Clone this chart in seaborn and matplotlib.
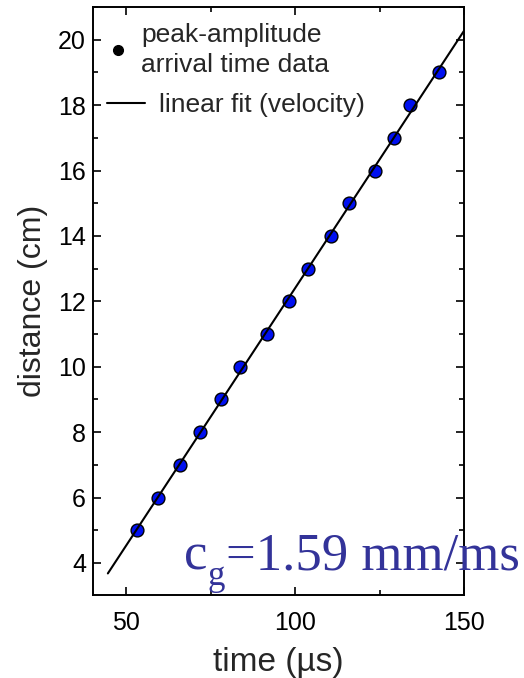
import numpy as np
import pandas as pd
import matplotlib
matplotlib.use("Agg")
import matplotlib.pyplot as plt
from matplotlib.lines import Line2D
from matplotlib.ticker import MultipleLocator
import seaborn as sns

# ---- data ----
time_us = [53.0, 59.3, 65.8, 71.8, 78.1, 83.7, 91.5, 98.1, 103.7, 110.6, 116.0, 123.7, 129.4, 133.9, 142.5]
distance_cm = [5, 6, 7, 8, 9, 10, 11, 12, 13, 14, 15, 16, 17, 18, 19]
fit_range_us = [44.5, 152.0]
x_ticks = [50, 100, 150]
y_ticks = [4, 6, 8, 10, 12, 14, 16, 18, 20]
vel_main, vel_sub, vel_rest = "c", "g", "=1.59 mm/ms"

df = pd.DataFrame({"time": time_us, "distance": distance_cm})
slope, intercept = np.polyfit(time_us, distance_cm, 1)
fit_df = pd.DataFrame({"time": fit_range_us})
fit_df["distance"] = slope * fit_df["time"] + intercept

sns.set_theme(style="ticks")
plt.rcParams["font.family"] = ["Liberation Sans", "DejaVu Sans"]

W, H = 524, 678
fig = plt.figure(figsize=(W / 100, H / 100), dpi=100)
ax = fig.add_axes([93 / W, 1 - 595 / H, (464 - 93) / W, (595 - 7) / H])

sns.scatterplot(data=df, x="time", y="distance", ax=ax, s=85, color="#0010F0",
                edgecolor="black", linewidth=1.0, zorder=2, legend=False)
sns.lineplot(data=fit_df, x="time", y="distance", ax=ax, color="black",
             linewidth=1.5, zorder=3, legend=False)

ax.set_xlim(40.1, 150.0)
ax.set_ylim(3.02, 21.0)
ax.set_xticks(x_ticks)
ax.set_yticks(y_ticks)
ax.xaxis.set_minor_locator(MultipleLocator(25))
ax.yaxis.set_minor_locator(MultipleLocator(1))
ax.tick_params(which="both", direction="in", top=True, right=True, width=1.2,
               labelsize=18, colors="black")
ax.tick_params(which="major", length=6)
ax.tick_params(which="minor", length=3.5)
ax.tick_params(axis="x", pad=11.5)
ax.tick_params(axis="y", pad=5)
for sp in ax.spines.values():
    sp.set_linewidth(1.4)
    sp.set_color("black")

ax.set_xlabel("time (\u00b5s)", fontsize=24, labelpad=9)
ax.set_ylabel("distance (cm)", fontsize=23, labelpad=7)

# legends
h1 = Line2D([], [], marker="o", color="black", linestyle="none", markersize=7)
leg1 = ax.legend([h1], ["peak-amplitude\narrival time data"], loc="upper left",
                 bbox_to_anchor=(0.038, 0.973), frameon=False, fontsize=19,
                 handlelength=0.85, handletextpad=0.45, borderpad=0, borderaxespad=0)
for t in leg1.get_texts():
    t.set_linespacing(1.3)
ax.add_artist(leg1)
h2 = Line2D([], [], color="black", linewidth=1.5)
ax.legend([h2], ["linear fit (velocity)"], loc="upper left",
          bbox_to_anchor=(0.038, 0.853), frameon=False, fontsize=19,
          handlelength=1.45, handletextpad=0.5, borderpad=0, borderaxespad=0)

# group-velocity annotation: "c" + subscript "g" + rest
col = "#333399"
serif = ["Liberation Serif", "DejaVu Serif"]
base_y = 1 - 570 / H
t1 = fig.text(184 / W, base_y, vel_main, fontsize=38, color=col, family=serif,
              va="baseline", ha="left")
fig.canvas.draw()
r = fig.canvas.get_renderer()
bb1 = t1.get_window_extent(r)
t2 = fig.text(bb1.x1 / W, 1 - 585 / H, vel_sub, fontsize=25, color=col,
              family=serif, va="baseline", ha="left")
bb2 = t2.get_window_extent(r)
fig.text((bb2.x1 + 1) / W, base_y, vel_rest, fontsize=38, color=col, family=serif,
         va="baseline", ha="left")

fig.savefig("out.png", dpi=100)
